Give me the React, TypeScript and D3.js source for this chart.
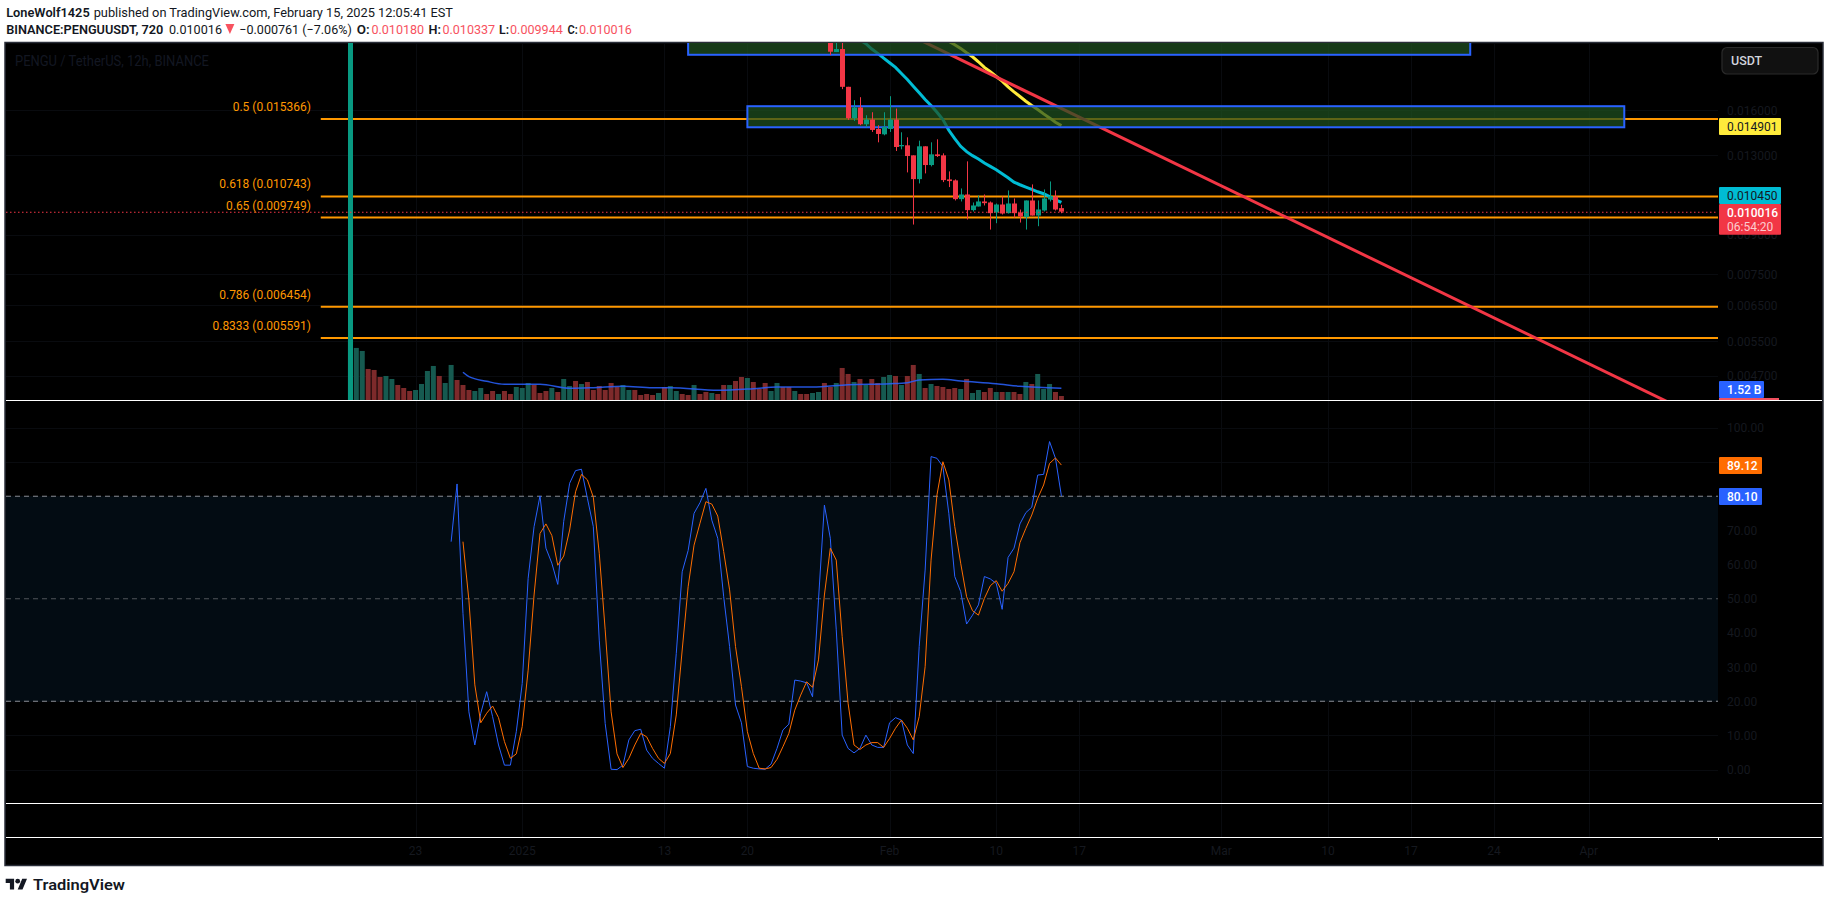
import React from "react";
import * as d3 from "d3";

// ---- Candles (index 0 = Dec 17 2024 12:00, 12h bars). Bars 1..80 lie above the visible price range.
const candleIndex = [0, 81,82,83,84,85,86,87,88,89,90,91,92,93,94,95,96,97,98,99,100,101,102,103,104,105,106,107,108,109,110,111,112,113,114,115,116,117,118,119,120];
const opens = [0.0035, .0222,.020926,.021218,.017824,.015417,.016198,.014995,.015322,.014673,.014314,.014673,.015322,.013543,.013605,.012989,.01164,.013543,.012421,.013049,.012989,.011624,.011571,.010612,.010843,.010086,.010257,.010498,.010449,.009977,.010352,.009947,.0104,.009977,.009763,.010547,.009838,.01007,.010595,.010743,.01018];
const highs = [0.05, .0224,.0220,.0222,.017824,.016756,.01699,.015632,.01585,.014926,.01585,.017069,.016121,.014448,.014117,.012989,.013901,.013543,.013795,.013987,.013111,.012062,.011624,.011149,.012634,.010449,.010794,.010843,.010498,.0104,.010743,.011047,.010644,.010116,.010547,.011358,.010547,.011098,.011515,.011047,.010337];
const lows = [0.0035, .020637,.020926,.017633,.015299,.015226,.014926,.014787,.014471,.013795,.014249,.014471,.013253,.013355,.012006,.009437,.011411,.011951,.012344,.012889,.01148,.011219,.010547,.010498,.009659,.010023,.010257,.010306,.009221,.009495,.009884,.00993,.009747,.009525,.009221,.009838,.009365,.010023,.010498,.01007,.009944];
const closes = [0.05, .02096,.021218,.017824,.015417,.016198,.014995,.015322,.014606,.014337,.01481,.015322,.013501,.013626,.012949,.01164,.013543,.012421,.013049,.012949,.011587,.011534,.010612,.010843,.010086,.010306,.010498,.010417,.009947,.010352,.00993,.0104,.009947,.009794,.010547,.009838,.010116,.010644,.010743,.010116,.010016];

// EMA lines
const cyanStart = 86;
const cyanEma = [.022122,.02175,.021218,.020797,.020352,.019919,.019493,.018957,.018438,.017877,.017336,.016807,.016348,.01585,.015322,.014583,.014031,.013543,.013211,.01297,.012771,.012537,.012344,.012155,.011932,.011714,.01148,.011341,.011219,.011098,.010978,.010878,.010743,.010579,.01045];
const yellowStart = 101;
const yellowEma = [.021986,.02165,.021283,.020862,.020477,.020009,.019493,.019105,.018695,.018297,.017824,.017416,.017043,.01668,.016348,.016047,.01573,.01544,.015134,.014901];

// Trendline anchors
const trendIdx = [95, 224];
const trendPrice = [.022456, .00407];

// Fibonacci levels
const fibLabels = ["0.5 (0.015366)", "0.618 (0.010743)", "0.65 (0.009749)", "0.786 (0.006454)", "0.8333 (0.005591)"];
const fibPrices = [.015366, .010743, .009749, .006454, .005591];

// Zones: [left idx, right idx, upper price, lower price]
const zoneLeft = [57, 67];
const zoneRight = [189, 215];
const zoneUpper = [.0235, .016297];
const zoneLower = [.020665, .014787];

// Volume in billions
const volumes = [7.8,6.76,6.37,4.03,3.9,2.99,3.12,2.73,1.95,1.56,1.17,1.3,2.08,3.77,4.42,3.12,2.21,4.55,2.6,1.95,1.3,1.17,1.56,.78,1.17,.78,1.17,.78,1.69,1.56,2.21,1.95,.91,1.17,1.56,1.04,2.73,1.82,2.47,2.08,2.34,1.3,1.82,1.3,2.21,1.69,1.95,1.3,1.3,.65,.78,.65,.91,1.69,1.82,1.17,.78,.65,1.95,.78,1.04,.91,.78,1.95,1.95,2.47,2.99,2.86,2.34,1.43,2.21,1.17,2.21,1.69,1.69,1.17,.78,.78,.91,1.04,2.21,1.69,2.21,4.16,3.38,2.34,2.73,1.95,2.73,2.21,2.99,3.25,3.12,1.95,3.12,4.55,3.38,1.56,2.08,1.82,1.69,1.43,1.56,1.43,2.73,.91,1.3,1.04,1.56,1.04,1.04,1.04,1.04,.78,2.34,2.08,3.38,1.43,2.08,1.04,.52];
const volumeDir = "GGGRRRGGRRRGGGGRGGRRRGGRRGRRGGGRRRGRGGRGRRRRRRGGRRRRGRGGRRGRRGRRGRRGRRRGGRRGRRGGRRGRRGRGRRGGRGRRGRGRRRRGRGGRRGRGRRGRGGGRR";
const volMaIdx = [19,20,23,26,32,37,41,46,51,54,62,68,72,78,84,91,94,96,100,103,109,113,120];
const volMaVal = [3.6,3.03,2.43,2.04,2.04,1.52,1.6,1.78,1.6,1.6,1.26,1.47,1.69,1.69,1.99,2.12,2.25,2.6,2.69,2.47,2.12,1.78,1.52];

// Stochastic RSI
const kStart = 17;
const stochK = [66.7,83.6,45.7,16.9,7.2,16.5,22.8,15.5,7.2,1.3,1.3,11.1,25.2,56.0,71.1,80.1,64.8,60.4,54.2,72.6,83.8,87.5,87.9,79.4,71.1,37.9,13.5,.1,0,1.3,8.7,11.4,11.8,5.7,3.3,1.8,.4,12.6,34.0,57.9,64.1,75.0,78.1,82.3,73.0,67.7,50.6,36.0,18.9,13.7,.9,.4,.2,.1,1.6,6.2,11.6,13.3,26.2,25.9,25.4,21.3,49.6,77.4,67.7,40.9,10.1,6.2,4.9,6.2,10.1,7.2,6.5,6.5,13.7,15.2,14.5,7.2,4.7,36.0,58.4,91.6,91.1,88.7,75.0,56.5,52.1,42.6,45.2,48.2,56.5,55.8,54.5,46.9,62.1,64.8,71.9,75.2,76.8,86.2,86.4,96.0,91.1,80.1];
const dStart = 19;
const stochD = [66.7,49.6,24.8,13.7,16.5,18.6,15.2,8.2,3.3,4.6,12.6,29.1,51.1,69.1,71.9,68.5,59.8,62.5,70.1,81.3,86.4,84.8,79.7,63.3,40.9,16.9,4.6,.6,3.3,7.2,10.6,9.6,6.2,3.3,1.8,4.7,16.0,35.0,53.5,65.7,72.1,78.4,77.7,74.2,63.8,52.6,36.0,24.3,11.1,4.7,.4,.2,.6,3.0,6.7,10.6,17.4,21.8,25.7,24.1,32.1,51.1,64.8,61.3,38.9,19.4,7.2,5.9,7.2,7.9,7.9,6.5,9.1,12.1,14.5,12.1,8.7,15.5,30.1,61.3,80.4,90.1,84.8,71.1,60.4,50.6,46.5,45.2,50.1,53.8,55.3,52.2,54.5,57.9,66.4,70.6,74.5,79.4,83.3,89.6,91.2,89.12];

// Axis ticks
const priceTicks = [.016, .013, .009, .0075, .0065, .0055, .0047];
const stochTicks = [100, 90, 80, 70, 60, 50, 40, 30, 20, 10, 0];
const timeLabels = ["23", "2025", "13", "20", "Feb", "10", "17", "Mar", "10", "17", "24", "Apr"];
const timeIdx = [11, 29, 53, 67, 91, 109, 123, 147, 165, 179, 193, 209];

// Price tags
const lastPrice = 0.010016;
const titleText = "PENGU / TetherUS, 12h, BINANCE";
const headerLine1 = ["LoneWolf1425", "published on TradingView.com, February 15, 2025 12:05:41 EST"];
const headerLine2 = ["BINANCE:PENGUUSDT, 720", "0.010016", "\u22120.000761 (\u22127.06%)", "O:", "0.010180", "H:", "0.010337", "L:", "0.009944", "C:", "0.010016"];

// Layout
const W = 1829, H = 902;
const L = 6, R = 1822, AX = 1719;
const P1 = [43, 400], P2 = [400, 803], P3 = 837, B = 865;
const GREEN = "#089981", RED = "#f23645", ORANGE = "#ff9800", BLUE = "#2962ff";
const TICKC = "#15181f", INK = "#131722";
const FONT = "Roboto, 'Liberation Sans', sans-serif";

const x = d3.scaleLinear().domain([0, 120]).range([350.4, 1061.4]);
const y = d3.scaleLog().domain([0.004198, 0.02182]).range([400, 43]);
const volY = d3.scaleLinear().domain([0, 1]).range([400, 392.3]);
const sy = d3.scaleLinear().domain([0, 100]).range([769.6, 427.9]);

const priceLine = d3.line<[number, number]>().x(d => x(d[0])).y(d => y(d[1]));
const volLine = d3.line<[number, number]>().x(d => x(d[0])).y(d => volY(d[1])).curve(d3.curveMonotoneX);
const stochLine = d3.line<[number, number]>().x(d => x(d[0])).y(d => sy(d[1]));
const seq = (start: number, a: number[]) => a.map((v, i) => [start + i, v] as [number, number]);

function HeaderPart({ t, x0, w, yy, bold, fill }: { t: string; x0: number; w: number; yy: number; bold?: boolean; fill?: string }) {
  return (
    <text x={x0} y={yy} fontSize={13} fontFamily={FONT} fontWeight={bold ? 600 : 400} fill={fill || INK} textLength={w} lengthAdjust="spacingAndGlyphs">
      {t}
    </text>
  );
}

function Tag({ y0, h, w, bg, label, fg, sub }: { y0: number; h: number; w: number; bg: string; label: string; fg: string; sub?: string }) {
  return (
    <g fontFamily={FONT} fontSize={12}>
      <rect x={AX} y={y0} width={w} height={h} fill={bg} rx={1} />
      <text x={AX + 8} y={y0 + (sub ? 12.5 : 12.8)} fill={fg} fontWeight={fg === "#fff" ? 500 : 400}>{label}</text>
      {sub && <text x={AX + 8} y={y0 + 26.5} fill="rgba(255,255,255,0.75)">{sub}</text>}
    </g>
  );
}

export default function App() {
  const bw = 5;
  return (
    <svg width={W} height={H} style={{ position: "fixed", left: 0, top: 0, background: "#fff" }}>
      <defs>
        <clipPath id="pane1"><rect x={L} y={P1[0]} width={AX - L} height={P1[1] - P1[0]} /></clipPath>
      </defs>

      {/* header */}
      <HeaderPart t={headerLine1[0]} x0={6.2} w={83.5} yy={17} bold />
      <HeaderPart t={headerLine1[1]} x0={93.7} w={359.3} yy={17} />
      <HeaderPart t={headerLine2[0]} x0={6.2} w={157.2} yy={34} bold />
      <HeaderPart t={headerLine2[1]} x0={169} w={53} yy={34} />
      <path d={d3.line()([[225.4, 24], [234.4, 24], [229.9, 34]]) + "Z"} fill="#f7525f" />
      <HeaderPart t={headerLine2[2]} x0={239.3} w={112.5} yy={34} />
      {[[3, 356.7, 12.9], [5, 428.6, 12.4], [7, 499, 10], [9, 567.4, 10.3]].map(([i, xx, w]) => (
        <HeaderPart key={i} t={headerLine2[i]} x0={xx} w={w} yy={34} bold />
      ))}
      {[[4, 371.4], [6, 442.4], [8, 510], [10, 579]].map(([i, xx]) => (
        <HeaderPart key={i} t={headerLine2[i]} x0={xx} w={52.8} yy={34} fill="#f7525f" />
      ))}

      {/* chart background */}
      <rect x={L - 1} y={P1[0] - 0.5} width={R - L + 2} height={B - P1[0] + 1} fill="#000" stroke="#2a2e39" strokeWidth={1.5} />

      {/* faint grid */}
      <g stroke="#090b0f" strokeWidth={1}>
        {timeIdx.map((t, i) => (
          <line key={i} x1={Math.round(x(t)) + 0.5} x2={Math.round(x(t)) + 0.5} y1={P1[0]} y2={P3} />
        ))}
        {priceTicks.map((p, i) => (
          <line key={i} x1={L} x2={AX - 1} y1={Math.round(y(p)) + 0.5} y2={Math.round(y(p)) + 0.5} />
        ))}
        {stochTicks.map((p, i) => (
          <line key={i} x1={L} x2={AX - 1} y1={Math.round(sy(p)) + 0.5} y2={Math.round(sy(p)) + 0.5} />
        ))}
      </g>

      <text x={15} y={66} fontSize={14} fontFamily={FONT} fill={INK} textLength={194} lengthAdjust="spacingAndGlyphs">{titleText}</text>

      {/* main pane */}
      <g clipPath="url(#pane1)">
        {/* volume */}
        {volumes.map((v, i) => (
          <rect key={i} x={x(i) - bw / 2} y={volY(v)} width={bw} height={400 - volY(v)} fill={volumeDir[i] === "G" ? "#165a50" : "#7d2a2b"} />
        ))}
        <path d={volLine(volMaIdx.map((t, i) => [t, volMaVal[i]] as [number, number])) || ""} fill="none" stroke={BLUE} strokeWidth={1.5} opacity={0.85} />

        {/* fib levels */}
        {fibPrices.map((p, i) => (
          <line key={i} x1={x(-5)} x2={AX - 1} y1={y(p)} y2={y(p)} stroke={ORANGE} strokeWidth={2} />
        ))}

        {/* averages and trendline */}
        <path d={priceLine(seq(cyanStart, cyanEma)) || ""} fill="none" stroke="#00bcd4" strokeWidth={3} />
        <path d={priceLine(seq(yellowStart, yellowEma)) || ""} fill="none" stroke="#ffeb3b" strokeWidth={3} />
        <path d={priceLine([[trendIdx[0], trendPrice[0]], [trendIdx[1], trendPrice[1]]]) || ""} fill="none" stroke={RED} strokeWidth={3} />

        {/* zones */}
        {zoneLeft.map((l, i) => (
          <rect key={i} x={x(l)} y={y(zoneUpper[i])} width={x(zoneRight[i]) - x(l)} height={y(zoneLower[i]) - y(zoneUpper[i])}
            fill="rgba(30,80,32,0.72)" stroke={BLUE} strokeWidth={2} />
        ))}

        {/* candles */}
        {candleIndex.map((t, i) => {
          const up = closes[i] >= opens[i];
          const c = up ? GREEN : RED;
          const cx = Math.round(x(t)) + 0.5;
          const top = y(Math.max(opens[i], closes[i]));
          const bot = y(Math.min(opens[i], closes[i]));
          return (
            <g key={t}>
              <line x1={cx} x2={cx} y1={y(highs[i])} y2={y(lows[i])} stroke={c} strokeWidth={1} />
              <rect x={cx - bw / 2} y={top} width={bw} height={Math.max(1, bot - top)} fill={c} />
            </g>
          );
        })}

        {/* last price line */}
        <line x1={L} x2={AX - 1} y1={y(lastPrice) + 0.6} y2={y(lastPrice) + 0.6} stroke={RED} strokeWidth={1} strokeDasharray="1.5 2.5" />
      </g>

      {/* fib labels */}
      {fibLabels.map((s, i) => (
        <text key={i} x={311} y={y(fibPrices[i]) - 8} textAnchor="end" fontSize={12} fontFamily={FONT} fill={ORANGE}>{s}</text>
      ))}

      {/* stochastic pane */}
      <rect x={L} y={sy(80)} width={AX - 1 - L} height={sy(20) - sy(80)} fill="#030c13" />
      {[[80, "#8a8d94"], [50, "#50535a"], [20, "#8a8d94"]].map(([v, c]) => (
        <line key={v as number} x1={L} x2={AX - 1} y1={sy(v as number)} y2={sy(v as number)} stroke={c as string} strokeDasharray="5 4" strokeWidth={1} />
      ))}
      <path d={stochLine(seq(kStart, stochK)) || ""} fill="none" stroke={BLUE} strokeWidth={1} />
      <path d={stochLine(seq(dStart, stochD)) || ""} fill="none" stroke="#ff6d00" strokeWidth={1} />

      {/* separators */}
      <g stroke="#fff" strokeWidth={1}>
        <line x1={L} x2={R} y1={P1[1] + 0.5} y2={P1[1] + 0.5} />
        <line x1={L} x2={R} y1={P2[1] + 0.5} y2={P2[1] + 0.5} />
        <line x1={L} x2={R} y1={P3 + 0.5} y2={P3 + 0.5} />
        <line x1={AX - 0.5} x2={AX - 0.5} y1={P3} y2={P3 + 3} />
      </g>

      {/* axis labels */}
      <g fontFamily={FONT} fontSize={12} fill={TICKC}>
        {priceTicks.map((p, i) => (
          <text key={i} x={AX + 8} y={y(p) + 4.5}>{d3.format(".6f")(p)}</text>
        ))}
        {stochTicks.map((p, i) => (
          <text key={i} x={AX + 8} y={sy(p) + 4.5}>{d3.format(".2f")(p)}</text>
        ))}
        {timeLabels.map((t, i) => (
          <text key={i} x={x(timeIdx[i])} y={855} textAnchor="middle">{t}</text>
        ))}
      </g>

      {/* price tags */}
      <Tag y0={118} h={17} w={62} bg="#ffeb3b" label="0.014901" fg={INK} />
      <Tag y0={187} h={17} w={62} bg="#00bcd4" label="0.010450" fg={INK} />
      <Tag y0={204} h={30.7} w={62} bg={RED} label="0.010016" fg="#fff" sub="06:54:20" />
      <rect x={AX} y={398} width={60} height={2} fill="#f0505e" />
      <Tag y0={381} h={17} w={45} bg={BLUE} label="1.52 B" fg="#fff" />
      <Tag y0={457} h={17} w={43} bg="#ff6d00" label="89.12" fg="#fff" />
      <Tag y0={488} h={17} w={43} bg={BLUE} label="80.10" fg="#fff" />

      {/* currency button */}
      <rect x={1722} y={47.5} width={96} height={26.5} rx={5} fill="#111" stroke="#2b2b2b" strokeWidth={1.2} />
      <text x={1731} y={65} fontFamily={FONT} fontSize={12.5} fontWeight={500} fill="#d1d4dc">USDT</text>

      {/* logo */}
      <g transform="translate(5.7,876.4) scale(0.6)" fill={INK}>
        <path d="M14 22H7V11H0V4h14v18zM28 22h-8l7.5-18h8L28 22z" />
        <circle cx={20} cy={8} r={4} />
      </g>
      <text x={33} y={889.5} fontFamily={FONT} fontSize={15.5} fontWeight={600} fill={INK} textLength={92} lengthAdjust="spacingAndGlyphs">TradingView</text>
    </svg>
  );
}
